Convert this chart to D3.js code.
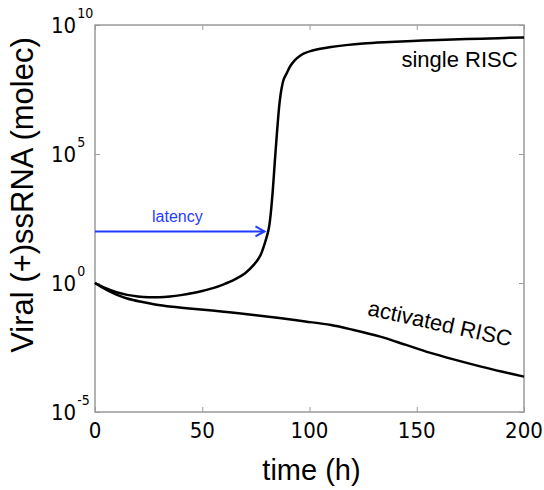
<!DOCTYPE html>
<html>
<head>
<meta charset="utf-8">
<script src="https://cdn.jsdelivr.net/npm/d3@7"></script>
<style>
body { margin: 0; background: #fff; }
svg { display: block; }
</style>
</head>
<body>
<div id="chart"></div>
<script>
// time (h) and log10 of viral (+)ssRNA molecules
var singleT   = [0, 5, 10, 15, 20, 25, 30, 35, 40, 45, 50, 55, 60, 65, 70, 74, 77, 79, 81, 82.5, 84, 85, 86, 87, 88, 89.5, 91, 93, 95, 97.5, 101, 105, 110, 117, 125, 135, 148, 160, 180, 200];
var singleLog = [0, -0.2, -0.36, -0.46, -0.52, -0.55, -0.55, -0.52, -0.47, -0.4, -0.31, -0.2, -0.05, 0.13, 0.38, 0.7, 1.05, 1.5, 2.1, 3.2, 4.9, 6.0, 6.95, 7.55, 7.9, 8.15, 8.4, 8.62, 8.77, 8.9, 9.0, 9.08, 9.15, 9.22, 9.28, 9.33, 9.38, 9.42, 9.47, 9.52];

var activT   = [0, 5, 10, 15, 21, 28, 36, 44, 52, 60, 68, 77, 86, 98, 110, 120, 133, 145, 156, 168, 180, 190, 200];
var activLog = [0, -0.25, -0.45, -0.6, -0.72, -0.83, -0.92, -0.99, -1.05, -1.11, -1.18, -1.27, -1.36, -1.49, -1.63, -1.81, -2.08, -2.4, -2.7, -2.98, -3.24, -3.44, -3.63];

var xTicks = [0, 50, 100, 150, 200];
var yTicks = [1e-5, 1e0, 1e5, 1e10];
var yTickExp = ["-5", "0", "5", "10"];

var latencyLevel = 100;   // arrow height (molec)
var latencyEnd = 79;      // arrow tip (h)

var width = 544, height = 490;
var plotL = 95, plotR = 524, plotT = 25, plotB = 412;

var svg = d3.select("#chart").append("svg").attr("width", width).attr("height", height);

var x = d3.scaleLinear().domain([0, 200]).range([plotL, plotR]);
var y = d3.scaleLog().domain([1e-5, 1e10]).range([plotB, plotT]);

var axisColor = "#9a9a9a";
var tickFont = "'DejaVu Sans Condensed', 'DejaVu Sans', sans-serif";
var labelFont = "'Liberation Sans', Arial, sans-serif";

// frame
svg.append("rect").attr("x", plotL).attr("y", plotT)
	.attr("width", plotR - plotL).attr("height", plotB - plotT)
	.attr("fill", "none").attr("stroke", axisColor).attr("stroke-width", 1.5);

// inward ticks on all four sides
function tickStyle(g) {
	g.select(".domain").remove();
	g.selectAll("line").attr("stroke", axisColor).attr("stroke-width", 1);
	g.selectAll("text").remove();
}
svg.append("g").attr("transform", "translate(0," + plotB + ")")
	.call(d3.axisBottom(x).tickValues(xTicks).tickSize(-5)).call(tickStyle);
svg.append("g").attr("transform", "translate(0," + plotT + ")")
	.call(d3.axisTop(x).tickValues(xTicks).tickSize(-5)).call(tickStyle);
svg.append("g").attr("transform", "translate(" + plotL + ",0)")
	.call(d3.axisLeft(y).tickValues(yTicks).tickSize(-5)).call(tickStyle);
svg.append("g").attr("transform", "translate(" + plotR + ",0)")
	.call(d3.axisRight(y).tickValues(yTicks).tickSize(-5)).call(tickStyle);

// x tick labels
svg.selectAll(".xlab").data(xTicks).enter().append("text")
	.attr("x", function(d) { return x(d); })
	.attr("y", plotB + 26)
	.attr("text-anchor", "middle")
	.attr("font-family", tickFont).attr("font-size", 22)
	.text(function(d) { return d; });

// y tick labels 10^n
var ylab = svg.selectAll(".ylab").data(yTicks).enter().append("text")
	.attr("x", 51)
	.attr("y", function(d) { return y(d) + 8; })
	.attr("font-family", tickFont).attr("font-size", 22);
ylab.append("tspan").text("10");
ylab.append("tspan").attr("dy", -15).attr("dx", 1).attr("font-size", 14)
	.text(function(d, i) { return yTickExp[i]; });

// axis titles
svg.append("text").attr("x", (plotL + plotR) / 2 + 2).attr("y", 480)
	.attr("text-anchor", "middle")
	.attr("font-family", labelFont).attr("font-size", 29)
	.text("time (h)");
svg.append("text")
	.attr("transform", "translate(33,195) rotate(-90)")
	.attr("text-anchor", "middle")
	.attr("font-family", labelFont).attr("font-size", 31)
	.text("Viral (+)ssRNA (molec)");

// curves
var line = d3.line()
	.x(function(d) { return x(d[0]); })
	.y(function(d) { return y(Math.pow(10, d[1])); })
	.curve(d3.curveCatmullRom.alpha(0.5));

var singleData = singleT.map(function(t, i) { return [t, singleLog[i]]; });
var activData = activT.map(function(t, i) { return [t, activLog[i]]; });

svg.append("path").datum(activData).attr("d", line)
	.attr("fill", "none").attr("stroke", "#000").attr("stroke-width", 2.5);
svg.append("path").datum(singleData).attr("d", line)
	.attr("fill", "none").attr("stroke", "#000").attr("stroke-width", 2.5);

// curve labels
svg.append("text").attr("x", x(197)).attr("y", y(Math.pow(10, 8.38)))
	.attr("text-anchor", "end")
	.attr("font-family", labelFont).attr("font-size", 22)
	.text("single RISC");
svg.append("text")
	.attr("transform", "translate(" + x(126.7) + "," + y(Math.pow(10, -1.24)) + ") rotate(12.4)")
	.attr("font-family", labelFont).attr("font-size", 22)
	.text("activated RISC");

// latency arrow
var blue = "#1f3cff";
var ay = y(latencyLevel), ax = x(latencyEnd);
svg.append("line").attr("x1", x(0)).attr("x2", ax).attr("y1", ay).attr("y2", ay)
	.attr("stroke", blue).attr("stroke-width", 2);
svg.append("path")
	.attr("d", "M" + (ax - 9) + "," + (ay - 5) + "L" + ax + "," + ay + "L" + (ax - 9) + "," + (ay + 5))
	.attr("fill", "none").attr("stroke", blue).attr("stroke-width", 2);
svg.append("text").attr("x", x(26.6)).attr("y", y(Math.pow(10, 2.38)))
	.attr("font-family", labelFont).attr("font-size", 16).attr("fill", blue)
	.text("latency");
</script>
</body>
</html>
